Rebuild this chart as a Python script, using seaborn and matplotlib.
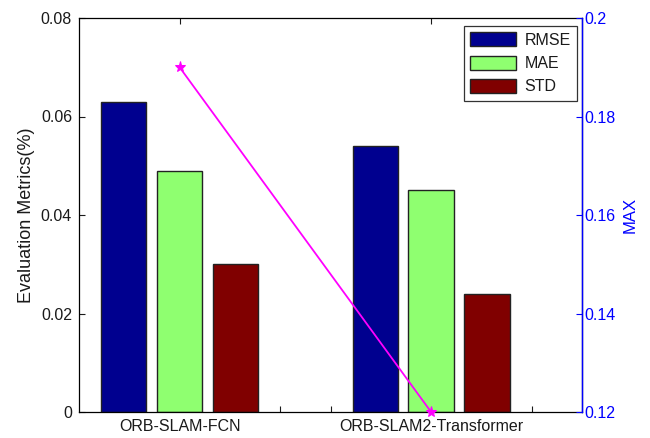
import matplotlib
matplotlib.use("Agg")
import matplotlib.pyplot as plt
import seaborn as sns
import pandas as pd
import numpy as np

methods = ["ORB-SLAM-FCN", "ORB-SLAM2-Transformer"]
metrics = ["RMSE", "MAE", "STD"]
rmse = [0.063, 0.054]
mae = [0.049, 0.045]
std = [0.030, 0.024]
max_vals = [0.190, 0.120]

colors = ["#00008F", "#8FFF70", "#800000"]

df = pd.DataFrame({
    "method": methods * 3,
    "metric": [m for m in metrics for _ in methods],
    "value": rmse + mae + std,
})

sns.set_style("white")
plt.rcParams["font.family"] = ["Liberation Sans", "DejaVu Sans"]
plt.rcParams["text.color"] = "#1a1a1a"
plt.rcParams["axes.labelcolor"] = "#1a1a1a"
plt.rcParams["xtick.color"] = "#1a1a1a"
plt.rcParams["ytick.color"] = "#1a1a1a"

fig = plt.figure(figsize=(6.5, 4.38), dpi=100)
ax = fig.add_axes([79 / 650, 1 - 412 / 438, (582 - 79) / 650, (412 - 18) / 438])

sns.barplot(data=df, x="method", y="value", hue="metric", order=methods,
            hue_order=metrics, palette=colors, width=0.667, gap=0.19,
            edgecolor="#222222", linewidth=1.0, saturation=1, ax=ax,
            errorbar=None, legend=True)

ax.set_xlim(-0.4, 1.6)
ax.set_ylim(0, 0.08)
ax.set_yticks([0, 0.02, 0.04, 0.06, 0.08])
ax.set_yticklabels(["0", "0.02", "0.04", "0.06", "0.08"])
ax.set_xticks([0, 1])
ax.set_xticklabels(methods)
ax.set_xticks([-0.2, 0.2, 0.4, 0.6, 0.8, 1.2, 1.4], minor=True)
ax.set_xlabel("")
ax.set_ylabel("Evaluation Metrics(%)", fontsize=13, labelpad=4)
ax.tick_params(axis="x", which="major", direction="in", length=4, width=0.8,
               top=True, bottom=True, labelsize=11.5, pad=5)
ax.tick_params(axis="x", which="minor", direction="in", length=4, width=0.8,
               top=False, bottom=True)
ax.tick_params(axis="y", direction="in", length=4, width=0.8, left=True,
               right=False, labelsize=11.5, pad=5)
for s in ["left", "bottom", "top", "right"]:
    ax.spines[s].set_color("black")
    ax.spines[s].set_linewidth(0.9)

handles, labels = ax.get_legend_handles_labels()
ax.get_legend().remove()

ax2 = ax.twinx()
sns.lineplot(x=[0, 1], y=max_vals, ax=ax2, color="#FF00FF", linewidth=1.3,
             marker="*", markersize=8, markeredgecolor="#FF00FF",
             markerfacecolor="#FF00FF", clip_on=False)
ax2.set_ylim(0.12, 0.2)
ax2.set_yticks([0.12, 0.14, 0.16, 0.18, 0.2])
ax2.set_yticklabels(["0.12", "0.14", "0.16", "0.18", "0.2"])
ax2.set_ylabel("MAX", color="blue", fontsize=12, labelpad=5)
ax2.tick_params(axis="y", direction="in", length=4, width=0.8, colors="blue",
                labelcolor="blue", labelsize=11.5, pad=2)
for s in ["left", "bottom", "top"]:
    ax2.spines[s].set_visible(False)
ax2.spines["right"].set_color("blue")
ax2.spines["right"].set_linewidth(1.0)

leg = ax2.legend(handles, labels, loc="upper right",
                 bbox_to_anchor=(577 / 650, 1 - 26 / 438),
                 bbox_transform=fig.transFigure, fontsize=11.5,
                 frameon=True, fancybox=False, edgecolor="black",
                 handlelength=2.9, handleheight=0.95, borderpad=0.4,
                 labelspacing=0.5, handletextpad=0.5, borderaxespad=0)
leg.get_frame().set_linewidth(0.9)

fig.savefig("out.png", dpi=100)
